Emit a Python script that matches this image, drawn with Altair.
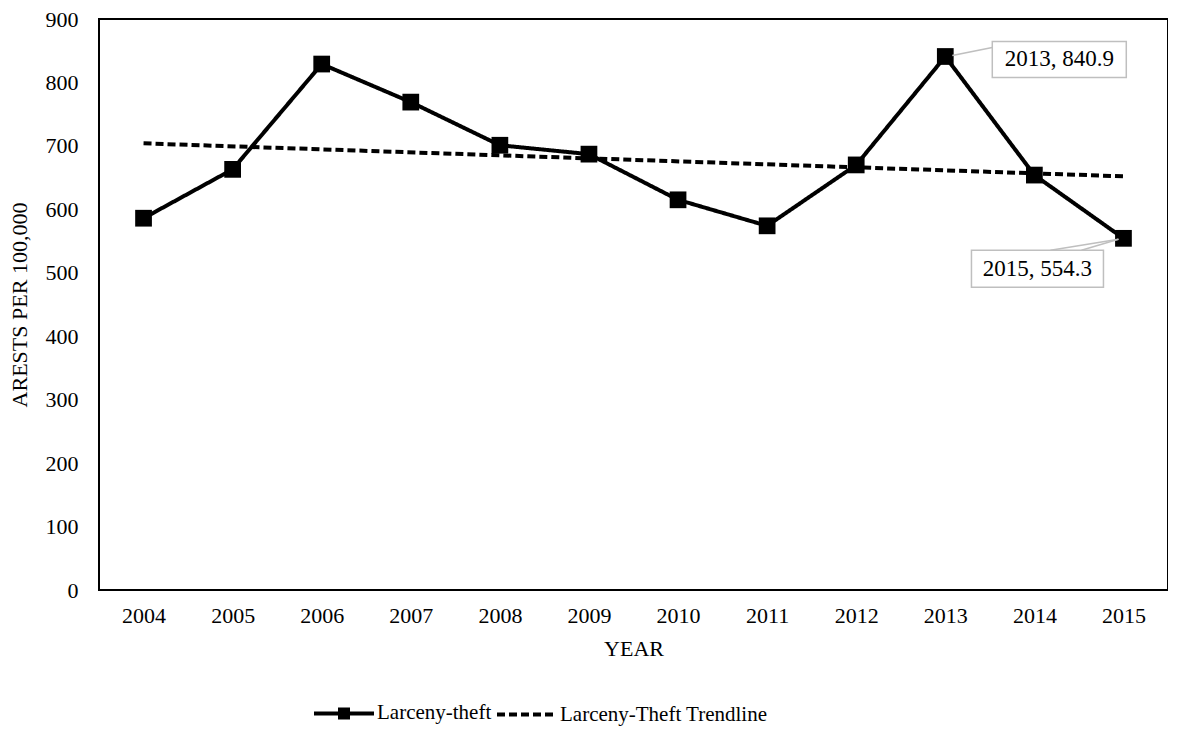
import altair as alt
import pandas as pd

years = ["2004", "2005", "2006", "2007", "2008", "2009", "2010", "2011", "2012", "2013", "2014", "2015"]
values = [586, 663, 829, 769, 701, 687, 615, 574, 670, 840.9, 654, 554.3]
trend_years = ["2004", "2015"]
trend_values = [704, 652]
series_names = ["Larceny-theft", "Larceny-Theft Trendline"]
ann_years = ["2013", "2015"]
ann_values = [840.9, 554.3]
ann_labels = ["2013, 840.9", "2015, 554.3"]

FONT = "Liberation Serif"

main = pd.DataFrame({"year": years, "value": values, "series": series_names[0]})
trend = pd.DataFrame({"year": trend_years, "value": trend_values, "series": series_names[1]})
lines_df = pd.concat([main, trend], ignore_index=True)

xenc = alt.X("year:O", scale=alt.Scale(type="point", padding=0.5, domain=years),
             axis=alt.Axis(title="YEAR", labelAngle=0, ticks=False, domain=False,
                           labelPadding=15, titlePadding=12))
yenc = alt.Y("value:Q", scale=alt.Scale(domain=[0, 900], nice=False),
             axis=alt.Axis(title="ARESTS PER 100,000", values=list(range(0, 1000, 100)),
                           ticks=False, domain=False, grid=False, labelPadding=21,
                           titlePadding=14))

dash_scale = alt.Scale(domain=series_names, range=[[1, 0], [8, 4]])
shape_scale = alt.Scale(domain=series_names,
                        range=["M-2,0H2M-0.4,-0.27H0.4M-0.4,0H0.4M-0.4,0.27H0.4", "M-2,0H2"])

legend_def = alt.Legend(
    title=None, orient="none", direction="horizontal",
    legendX=228, legendY=677,
    symbolSize=900, symbolStrokeWidth=4, symbolStrokeColor="black",
    symbolOpacity=1,
    labelFont=FONT, labelFontSize=21, labelColor="black", labelLimit=400,
    labelOffset=16, columnPadding=-3,
)

line = alt.Chart(lines_df).mark_line(strokeWidth=4, color="black").encode(
    x=xenc, y=yenc,
    strokeDash=alt.StrokeDash("series:N", scale=dash_scale, legend=legend_def),
)

legend_layer = alt.Chart(lines_df).mark_point(
    filled=False, color="black", strokeWidth=4, opacity=0
).encode(
    x=alt.X("year:O"), y=alt.Y("value:Q"),
    shape=alt.Shape("series:N", scale=shape_scale, legend=legend_def),
    strokeDash=alt.StrokeDash("series:N", scale=dash_scale, legend=legend_def),
)

points = alt.Chart(main).mark_square(size=280, color="black", opacity=1, filled=True).encode(
    x=alt.X("year:O"), y=alt.Y("value:Q")
)

ann = pd.DataFrame({"year": ann_years, "value": ann_values, "label": ann_labels})
a1 = alt.Chart(ann.iloc[[0]])
a2 = alt.Chart(ann.iloc[[1]])

box_style = dict(fill="white", stroke="#BFBFBF", strokeWidth=1.5)
lead_style = dict(color="#BFBFBF", strokeWidth=1.5)

enc_box = dict(x="year:O", x2=alt.X2("year"), y="value:Q", y2=alt.Y2("value"))

box1 = a1.mark_rect(xOffset=47, x2Offset=181, yOffset=-15, y2Offset=21, **box_style).encode(**enc_box)
lead1 = a1.mark_rule(xOffset=7, x2Offset=47, yOffset=-1, y2Offset=-9, **lead_style).encode(**enc_box)
text1 = a1.mark_text(dx=114, dy=3, font=FONT, fontSize=23, color="black").encode(
    x="year:O", y="value:Q", text="label:N")

box2 = a2.mark_rect(xOffset=-152, x2Offset=-20, yOffset=12, y2Offset=49, **box_style).encode(**enc_box)
lead2a = a2.mark_rule(xOffset=-5, x2Offset=-73, yOffset=1, y2Offset=12, **lead_style).encode(**enc_box)
lead2b = a2.mark_rule(xOffset=-5, x2Offset=-42, yOffset=1, y2Offset=12, **lead_style).encode(**enc_box)
text2 = a2.mark_text(dx=-86, dy=31, font=FONT, fontSize=23, color="black").encode(
    x="year:O", y="value:Q", text="label:N")

chart = alt.layer(line, points, legend_layer, lead1, lead2a, lead2b, box1, box2, text1, text2).properties(
    width=1069, height=571,
    padding={"left": 0, "top": 0, "right": 0, "bottom": 0},
).configure_view(
    stroke="black", strokeWidth=2
).configure_axis(
    labelFont=FONT, titleFont=FONT, labelFontSize=22, titleFontSize=22,
    labelColor="black", titleColor="black", titleFontWeight="normal"
).configure_legend(
    labelFont=FONT
)

chart.save("out.html", embed_options={"renderer": "svg", "actions": False})
